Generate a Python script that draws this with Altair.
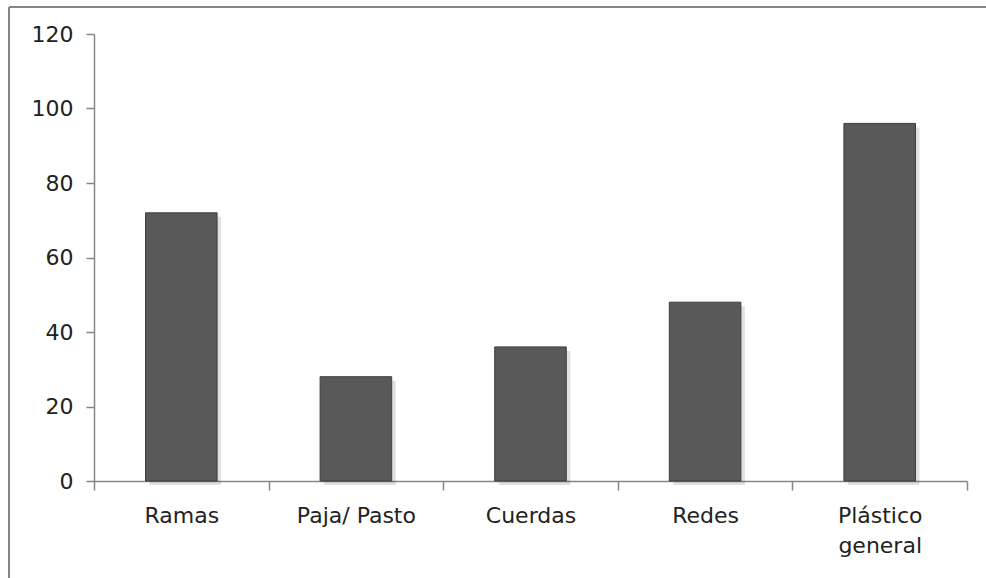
import altair as alt
import pandas as pd

categories = ["Ramas", "Paja/ Pasto", "Cuerdas", "Redes", "Plástico general"]
values = [72, 28, 36, 48, 96]
y_ticks = [0, 20, 40, 60, 80, 100, 120]

df = pd.DataFrame({"categoria": categories, "valor": values})

W, H = 873, 447
PAD_L, PAD_T = 94, 34
BAR_FRAC = 0.41

x_enc = alt.X(
    "categoria:N",
    sort=categories,
    scale=alt.Scale(paddingInner=0, paddingOuter=0),
    axis=alt.Axis(
        title=None,
        labelAngle=0,
        labelFont="DejaVu Sans",
        labelFontSize=22,
        labelColor="#222222",
        labelPadding=15,
        labelLineHeight=30,
        labelExpr="datum.label == 'Plástico general' ? ['Plástico', 'general'] : datum.label",
        domainColor="#868686",
        domainWidth=1.5,
        tickColor="#868686",
        tickWidth=1.5,
        tickSize=9,
        tickBand="extent",
        grid=False,
    ),
)
y_enc = alt.Y(
    "valor:Q",
    scale=alt.Scale(domain=[0, 120], nice=False),
    axis=alt.Axis(
        title=None,
        values=y_ticks,
        labelFont="DejaVu Sans",
        labelFontSize=22,
        labelColor="#222222",
        labelPadding=13,
        domainColor="#868686",
        domainWidth=1.5,
        tickColor="#868686",
        tickWidth=1.5,
        tickSize=8,
        grid=False,
    ),
)

base = alt.Chart(df)

shadow = base.mark_bar(
    color="#000000", opacity=0.12, xOffset=4, yOffset=4, y2Offset=0,
    width=alt.RelativeBandSize(BAR_FRAC),
).encode(x=x_enc, y=y_enc)

bars = base.mark_bar(
    color="#595959", stroke="#3f3f3f", strokeWidth=1,
    width=alt.RelativeBandSize(BAR_FRAC),
).encode(x=x_enc, y=y_enc)

# outer frame of the chart area (top and left edges)
frame_top = base.mark_rule(color="#858585", strokeWidth=2).encode(
    x=alt.value(9 - PAD_L), x2=alt.value(W + 40), y=alt.value(7 - PAD_T)
)
frame_left = base.mark_rule(color="#858585", strokeWidth=2).encode(
    x=alt.value(9 - PAD_L), y=alt.value(7 - PAD_T), y2=alt.value(H + 120)
)

chart = (
    alt.layer(shadow, bars, frame_top, frame_left)
    .properties(
        width=W,
        height=H,
        background="white",
        autosize=alt.AutoSizeParams(type="none"),
        padding={"left": PAD_L, "top": PAD_T, "right": 986 - PAD_L - W, "bottom": 578 - PAD_T - H},
    )
    .configure_view(strokeWidth=0, stroke="transparent")
)

chart.save("out.html", embed_options={"renderer": "svg", "actions": False})
